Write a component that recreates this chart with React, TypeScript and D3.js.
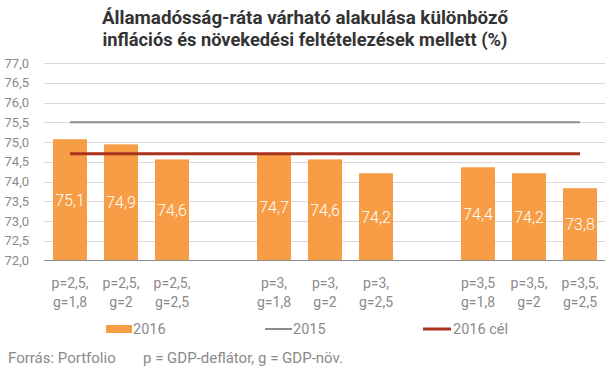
import React from "react";
import * as d3 from "d3";

const title = [
  "Államadósság-ráta várható alakulása különböző",
  "inflációs és növekedési feltételezések mellett (%)",
];
const categories = [
  "p=2,5, g=1,8",
  "p=2,5, g=2",
  "p=2,5, g=2,5",
  "",
  "p=3, g=1,8",
  "p=3, g=2",
  "p=3, g=2,5",
  " ",
  "p=3,5 g=1,8",
  "p=3,5, g=2",
  "p=3,5, g=2,5",
];
const values2016: (number | null)[] = [75.07, 74.94, 74.56, null, 74.68, 74.56, 74.21, null, 74.36, 74.21, 73.83];
const value2015 = 75.5;
const target2016 = 74.7;
const yTicks = [72, 72.5, 73, 73.5, 74, 74.5, 75, 75.5, 76, 76.5, 77];
const legendLabels = ["2016", "2015", "2016 cél"];
const footer = ["Forrás: Portfolio", "p = GDP-deflátor, g = GDP-növ."];

const W = 605;
const H = 378;
const FONT = "Roboto, 'Noto Sans', sans-serif";
const ORANGE = "#F79D46";
const GRAY = "#8C8C8C";
const RED = "#A9321F";
const TEXT = "#8A8A8A";

export default function App() {
  const y = d3.scaleLinear().domain([72, 77]).range([260.5, 63]);
  const x = d3
    .scaleBand<string>()
    .domain(categories)
    .range([44.5, 605.5])
    .paddingInner(1 / 3)
    .paddingOuter(1 / 6);
  const bw = x.bandwidth();
  const cx = (c: string) => (x(c) as number) + bw / 2;
  const x0 = cx(categories[0]);
  const x1 = cx(categories[categories.length - 1]);
  const fmt = (v: number) => v.toFixed(1).replace(".", ",");

  return (
    <svg width={W} height={H} style={{ position: "absolute", left: 0, top: 0, background: "#fff" }} fontFamily={FONT}>
      <rect width={W} height={H} fill="#fff" />
      {title.map((t, i) => (
        <text
          key={i}
          x={305}
          y={23.5 + i * 22}
          textAnchor="middle"
          fontSize={18}
          fontWeight="bold"
          fill="#333"
          textLength={i === 0 ? 406 : 405}
          lengthAdjust="spacingAndGlyphs"
        >
          {t}
        </text>
      ))}
      {yTicks.map((t) => (
        <g key={t}>
          {t > 72 && (
            <line x1={44} x2={605} y1={Math.round(y(t)) + 0.5} y2={Math.round(y(t)) + 0.5} stroke="#D9D9D9" strokeWidth={1} />
          )}
          <text x={29} y={y(t)} dy="0.35em" textAnchor="end" fontSize={13} fill={TEXT}>
            {fmt(t)}
          </text>
        </g>
      ))}
      {categories.map((c, i) => {
        const v = values2016[i];
        if (v == null) return null;
        return (
          <g key={c}>
            <rect x={x(c)} y={y(v)} width={bw} height={y(72) - y(v)} fill={ORANGE} />
            <text
              x={cx(c)}
              y={(y(v) + y(72)) / 2}
              dy="0.36em"
              textAnchor="middle"
              fontSize={16}
              fontWeight={300}
              fill="#fff"
            >
              {fmt(v)}
            </text>
          </g>
        );
      })}
      <line x1={44} x2={605} y1={260.5} y2={260.5} stroke={GRAY} strokeWidth={1} />
      <line x1={x0} x2={x1} y1={y(value2015)} y2={y(value2015)} stroke={GRAY} strokeWidth={2} />
      <line x1={x0} x2={x1} y1={y(target2016)} y2={y(target2016)} stroke={RED} strokeWidth={3} />
      {categories.map((c) => {
        if (!c.trim()) return null;
        const parts = c.split(" ");
        return (
          <g key={"l" + c}>
            {parts.map((p, j) => (
              <text key={j} x={cx(c)} y={287.5 + j * 19} textAnchor="middle" fontSize={14} fill={TEXT}>
                {p}
              </text>
            ))}
          </g>
        );
      })}
      <rect x={106} y={325} width={26} height={8} fill={ORANGE} />
      <text x={133} y={334} fontSize={14.5} fill={TEXT}>{legendLabels[0]}</text>
      <line x1={265} x2={292} y1={329} y2={329} stroke={GRAY} strokeWidth={2} />
      <text x={293} y={334} fontSize={14.5} fill={TEXT}>{legendLabels[1]}</text>
      <line x1={423} x2={451} y1={329} y2={329} stroke={RED} strokeWidth={3} />
      <text x={453} y={334} fontSize={14.5} fill={TEXT}>{legendLabels[2]}</text>
      <text x={8} y={363} fontSize={15} fill={TEXT}>{footer[0]}</text>
      <text x={143} y={363} fontSize={15} fill={TEXT}>{footer[1]}</text>
    </svg>
  );
}
